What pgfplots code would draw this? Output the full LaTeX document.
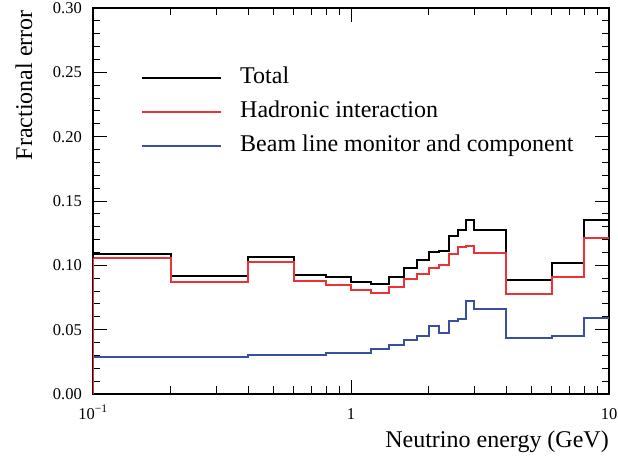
\documentclass[border=0pt]{standalone}
\usepackage{pgfplots}
\pgfplotsset{compat=1.18}
\usepackage{pgfplotstable}
\usepackage{fontspec}
\setmainfont{Liberation Serif}

\definecolor{hadred}{RGB}{235,50,55}
\definecolor{beamblue}{RGB}{55,80,160}

% bin lower edges, last row repeats the final value at 10 GeV
\pgfplotstableread{
e      tot     had     beam
0.1    0.1090  0.1054  0.0289
0.2    0.0915  0.0868  0.0289
0.4    0.1065  0.1023  0.0302
0.6    0.0928  0.0881  0.0302
0.8    0.0912  0.0850  0.0318
1.0    0.0873  0.0812  0.0318
1.2    0.0858  0.0783  0.0348
1.4    0.0912  0.0830  0.0384
1.6    0.0980  0.0891  0.0417
1.8    0.1040  0.0933  0.0448
2.0    0.1105  0.0977  0.0526
2.2    0.1112  0.1006  0.0474
2.4    0.1225  0.1088  0.0570
2.6    0.1276  0.1141  0.0582
2.8    0.1353  0.1149  0.0725
3.0    0.1273  0.1092  0.0660
4.0    0.0889  0.0775  0.0435
6.0    0.1018  0.0912  0.0451
8.0    0.1353  0.1216  0.0593
10.0   0.1353  0.1216  0.0593
}\errtab

\begin{document}
\begin{tikzpicture}
\begin{axis}[
  scale only axis,
  width=516bp, height=386bp,
  xmode=log,
  xmin=0.1, xmax=10,
  ymin=0, ymax=0.30,
  xtick={0.1,1,10},
  xticklabels={10\textsuperscript{−1},1,10},
  ytick={0,0.05,0.10,0.15,0.20,0.25,0.30},
  minor y tick num=4,
  /pgf/number format/fixed,
  /pgf/number format/fixed zerofill,
  /pgf/number format/precision=2,
  /pgf/number format/assume math mode=true,
  tick align=inside,
  major tick length=14bp,
  minor tick length=7.5bp,
  axis line style={line width=1.2bp},
  every tick/.style={black, line width=0.9bp},
  ticklabel style={font=\fontsize{16.5bp}{20bp}\selectfont},
  xticklabel style={anchor=base, inner sep=0pt, yshift=-25bp},
  yticklabel style={anchor=east, inner sep=0pt, xshift=-11bp},
  xlabel={Neutrino energy (GeV)},
  ylabel={Fractional error},
  label style={font=\fontsize{24bp}{28bp}\selectfont},
  xlabel style={at={(axis description cs:1,0)}, anchor=base east, inner sep=0pt, yshift=-53bp},
  ylabel style={at={(axis description cs:-0.118,0.995)}, anchor=base east, inner sep=0pt},
  legend style={at={(axis description cs:0.093,0.848)}, anchor=north west,
    draw=none, fill=none, inner sep=0pt, row sep=12bp, column sep=18bp,
    font=\fontsize{24bp}{28bp}\selectfont,
    nodes={inner sep=0pt, text height=17bp, text depth=5bp}},
  legend cell align=left,
  legend image code/.code={\draw[#1] (0bp,0bp) -- (79bp,0bp);},
  const plot mark left,
]
\addplot[black, line width=2bp] table[x=e, y=tot] {\errtab};
\addplot[hadred, line width=2bp] table[x=e, y=had] {\errtab};
\addplot[beamblue, line width=2bp] table[x=e, y=beam] {\errtab};
% vertical rise of each histogram at 0.1 GeV
\addplot[black, line width=2bp, forget plot] coordinates {(0.1,0) (0.1,0.1090)};
\addplot[hadred, line width=2bp, forget plot] coordinates {(0.1,0) (0.1,0.1054)};
\legend{Total, Hadronic interaction, Beam line monitor and component}
\end{axis}
\pgfresetboundingbox
\path ([xshift=-93bp,yshift=-65bp]current axis.south west) rectangle ([xshift=9bp,yshift=8bp]current axis.north east);
\end{tikzpicture}
\end{document}
